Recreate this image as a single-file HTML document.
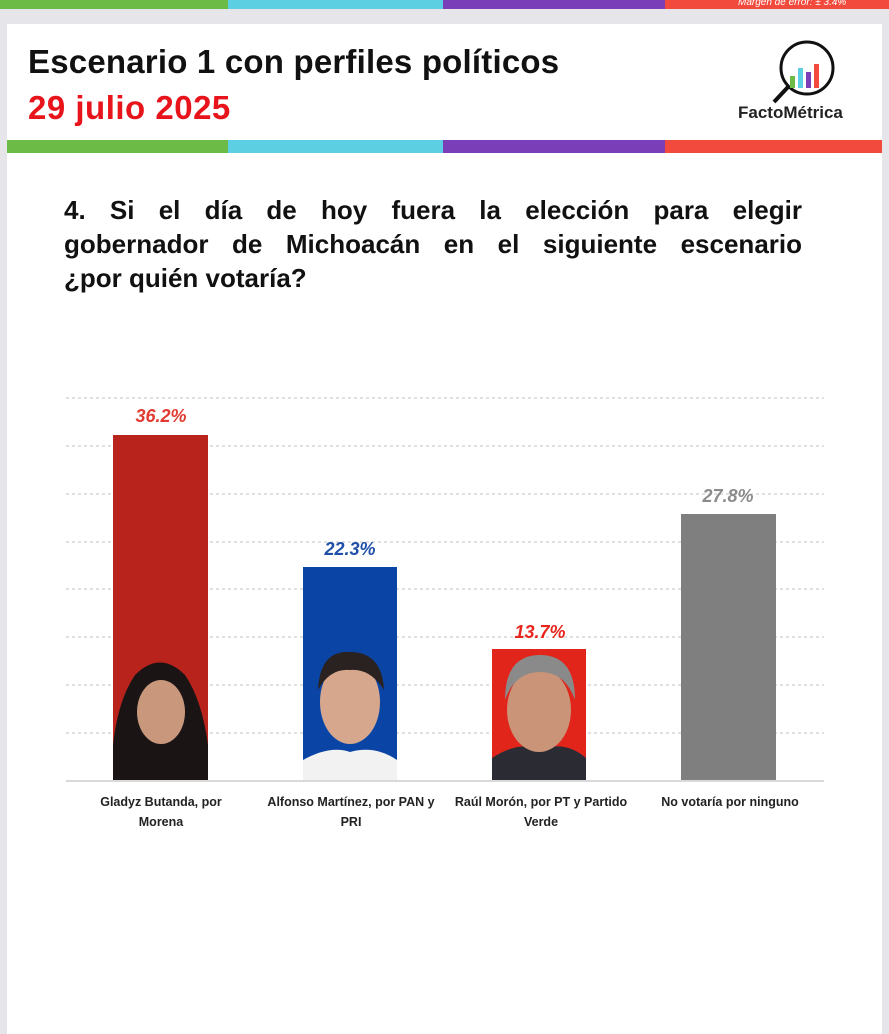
<!DOCTYPE html>
<html><head><meta charset="utf-8"><style>
body{margin:0;width:889px;height:1024px;background:#e6e6ea;position:relative;overflow:hidden;font-family:"Liberation Sans",sans-serif}
.a{position:absolute}
.q{position:absolute;left:64px;width:738px;font-size:26px;font-weight:bold;color:#111;text-align:justify;text-align-last:justify;white-space:nowrap}
</style></head><body>
<div class="a" style="left:0;top:0;width:228px;height:9px;background:#6cbb46"></div>
<div class="a" style="left:228px;top:0;width:215px;height:9px;background:#5ccfe3"></div>
<div class="a" style="left:443px;top:0;width:222px;height:9px;background:#7a3fb8"></div>
<div class="a" style="left:665px;top:0;width:224px;height:9px;background:#f24a3c"></div>
<div class="a" style="left:738px;top:-3px;font-size:10px;font-style:italic;color:#fff">Margen de error: ± 3.4%</div>
<div class="a" style="left:7px;top:24px;width:875px;height:1010px;background:#fff"></div>
<div class="a" style="left:28px;top:43px;font-size:33px;font-weight:bold;color:#111;letter-spacing:0.2px">Escenario 1 con perfiles políticos</div>
<div class="a" style="left:28px;top:89px;font-size:33px;font-weight:bold;color:#e8141b;letter-spacing:0.5px">29 julio 2025</div>
<svg class="a" style="left:760px;top:36px" width="80" height="70">
<circle cx="47" cy="32" r="26" fill="none" stroke="#111" stroke-width="3"/>
<line x1="28" y1="51" x2="14" y2="66" stroke="#111" stroke-width="4"/>
<rect x="30" y="40" width="5" height="12" fill="#6cbb46"/><rect x="38" y="32" width="5" height="20" fill="#5ccfe3"/><rect x="46" y="36" width="5" height="16" fill="#7a3fb8"/><rect x="54" y="28" width="5" height="24" fill="#f24a3c"/>
</svg>
<div class="a" style="left:738px;top:103px;font-size:17px;font-weight:bold;color:#222">FactoMétrica</div>
<div class="a" style="left:7px;top:140px;width:221px;height:13px;background:#6cbb46"></div>
<div class="a" style="left:228px;top:140px;width:215px;height:13px;background:#5ccfe3"></div>
<div class="a" style="left:443px;top:140px;width:222px;height:13px;background:#7a3fb8"></div>
<div class="a" style="left:665px;top:140px;width:217px;height:13px;background:#f24a3c"></div>
<div class="q" style="top:195px">4. Si el día de hoy fuera la elección para elegir</div>
<div class="q" style="top:229px">gobernador de Michoacán en el siguiente escenario</div>
<div class="a" style="left:64px;top:263px;font-size:26px;font-weight:bold;color:#111">¿por quién votaría?</div>
<svg class="a" style="left:0;top:0" width="889" height="1024">
<g stroke="#d6d6d6" stroke-width="1.5" stroke-dasharray="3,3">
<line x1="66" y1="398" x2="824" y2="398"/><line x1="66" y1="446" x2="824" y2="446"/><line x1="66" y1="494" x2="824" y2="494"/><line x1="66" y1="542" x2="824" y2="542"/><line x1="66" y1="589" x2="824" y2="589"/><line x1="66" y1="637" x2="824" y2="637"/><line x1="66" y1="685" x2="824" y2="685"/><line x1="66" y1="733" x2="824" y2="733"/>
</g>
<rect x="113" y="435" width="95" height="346" fill="#b8231c"/>
<rect x="303" y="567" width="94" height="214" fill="#0a45a6"/>
<rect x="492" y="649" width="94" height="132" fill="#e1251b"/>
<rect x="681" y="514" width="95" height="267" fill="#7f7f7f"/>
<path d="M113 781 L113 745 Q118 700 135 675 Q160 650 185 675 Q202 700 208 745 L208 781Z" fill="#1a1514"/>
<ellipse cx="161" cy="712" rx="24" ry="32" fill="#c9977c"/>
<path d="M303 781 L303 760 Q330 745 350 752 Q375 745 397 760 L397 781Z" fill="#f2f2f2"/>
<ellipse cx="350" cy="702" rx="30" ry="42" fill="#d6a78c"/>
<path d="M318 690 Q320 650 350 652 Q382 652 384 690 Q370 668 350 670 Q330 668 318 690Z" fill="#2a2220"/>
<path d="M492 781 L492 758 Q520 740 540 750 Q565 740 586 758 L586 781Z" fill="#2b2c33"/>
<ellipse cx="539" cy="710" rx="32" ry="42" fill="#c99478"/>
<path d="M505 700 Q505 655 540 655 Q575 655 575 700 Q565 672 540 672 Q515 672 505 700Z" fill="#8a8a8a"/>
<line x1="66" y1="781" x2="824" y2="781" stroke="#d9d9d9" stroke-width="2"/>
<g font-family="Liberation Sans" font-weight="bold" font-style="italic" font-size="18" text-anchor="middle">
<text x="161" y="422" fill="#e03a31">36.2%</text>
<text x="350" y="555" fill="#1f4fa8">22.3%</text>
<text x="540" y="638" fill="#e8251c">13.7%</text>
<text x="728" y="502" fill="#8c8c8c">27.8%</text>
</g>
<g font-family="Liberation Sans" font-weight="bold" font-size="12.5" fill="#222" text-anchor="middle">
<text x="161" y="806">Gladyz Butanda, por</text><text x="161" y="826">Morena</text>
<text x="351" y="806">Alfonso Martínez, por PAN y</text><text x="351" y="826">PRI</text>
<text x="541" y="806">Raúl Morón, por PT y Partido</text><text x="541" y="826">Verde</text>
<text x="730" y="806">No votaría por ninguno</text>
</g>
</svg>
</body></html>
